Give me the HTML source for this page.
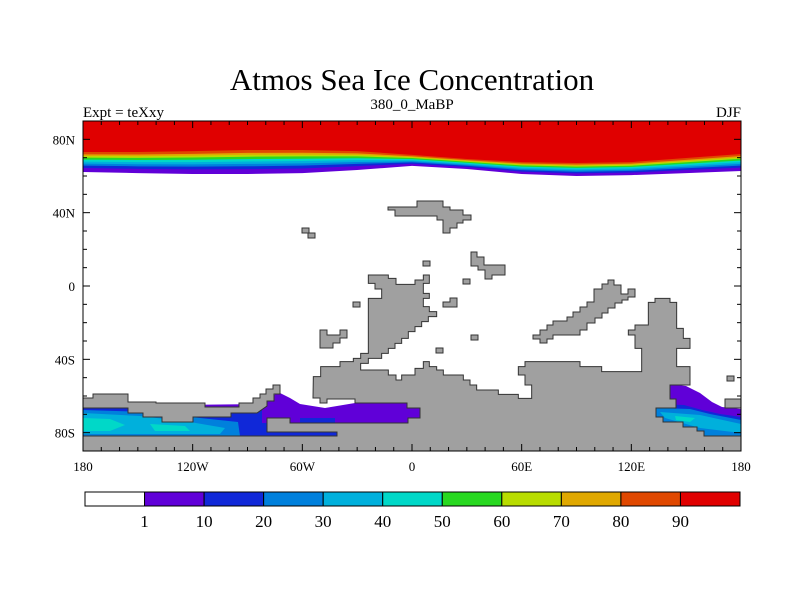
<!DOCTYPE html>
<html><head><meta charset="utf-8">
<style>
html,body{margin:0;padding:0;background:#fff;}
svg{display:block;font-family:"Liberation Serif",serif;}
</style></head>
<body>
<svg id="chart" width="800" height="600" viewBox="0 0 800 600" xmlns="http://www.w3.org/2000/svg">
<text x="412" y="90" font-size="31" text-anchor="middle">Atmos Sea Ice Concentration</text>
<text x="83" y="117" font-size="15">Expt = teXxy</text>
<text x="412" y="109" font-size="15" text-anchor="middle">380_0_MaBP</text>
<text x="741" y="117" font-size="15" text-anchor="end">DJF</text>
<g id="plot"></g>
<g id="axes"></g>
<g id="cbar"></g>
</svg>
<script>
const levels=[1,10,20,30,40,50,60,70,80,90];
const colors=["#ffffff","#6000d8","#1028d8","#0080dc","#00b0dc","#00d8c8","#28d820","#b8dc00","#e0a800","#e04800","#e00000"];
const arcticLons=[-180,-150,-120,-90,-60,-30,0,30,60,90,120,150,180];
const redEdgeLat=[73.1,73.1,73.6,74.2,74.2,73.6,71.5,69.3,67.6,67.1,67.6,69.8,72];
const iceEdgeLat=[62.2,61.6,61.1,61.1,61.6,63.3,65.5,63.8,61.1,60,60.5,61.6,62.7];
const bandFrac=[0,0.2,0.32,0.42,0.52,0.62,0.72,0.8,0.88,1];
const xTicks=[-180,-120,-60,0,60,120,180];
const xTickLabels=["180","120W","60W","0","60E","120E","180"];
const yTicks=[80,40,0,-40,-80];
const yTickLabels=["80N","40N","0","40S","80S"];

const X0=83,X1=741,Y0=121,Y1=451;
const xs=lon=>X0+(lon+180)/360*(X1-X0);
const ys=lat=>Y0+(90-lat)/180*(Y1-Y0);
const NS="http://www.w3.org/2000/svg";
function mk(tag,attrs,parent){const e=document.createElementNS(NS,tag);for(const k in attrs)e.setAttribute(k,attrs[k]);parent.appendChild(e);return e;}
const plot=document.getElementById('plot');
const axes=document.getElementById('axes');
const cbar=document.getElementById('cbar');

// Arctic bands: outermost (1) first, then higher levels on top
for(let b=0;b<=9;b++){
  const f=bandFrac[b];
  let pts=[];
  arcticLons.forEach((lon,i)=>{const lat=iceEdgeLat[i]+(redEdgeLat[i]-iceEdgeLat[i])*f;pts.push(xs(lon)+","+ys(lat));});
  pts.push(X1+","+Y0);pts.push(X0+","+Y0);
  const p=mk('polygon',{points:pts.join(" "),fill:colors[b+1]},plot);
  
  
}

function poly(pts,fill,name,stroke){
  const p=mk('polygon',{points:pts.map(q=>q.join(",")).join(" "),fill:fill},plot);
  if(stroke){p.setAttribute('stroke','#333');p.setAttribute('stroke-width','1');}
  
  
  return p;
}
// Southern ice - left
poly([[83,406],[265,404],[337,410],[337,436],[83,436]],colors[1],'south-ice-left-1');
poly([[83,408],[262,408],[280,420],[337,428],[337,436],[83,436]],colors[2],'south-ice-left-10');
poly([[83,410],[150,412],[200,418],[238,422],[240,436],[83,436]],colors[3],'south-ice-left-20');
poly([[83,413],[140,416],[190,422],[225,428],[220,434],[83,434]],colors[4],'south-ice-left-30');
poly([[83,418],[110,419],[125,425],[110,431],[83,431]],colors[5],'south-ice-left-40');
poly([[150,424],[185,426],[190,431],[155,431]],colors[5],'south-ice-left-40b');
// purple west of antarctic peninsula
poly([[278,392],[290,398],[300,404],[325,408],[355,403],[420,403],[420,423],[262,423],[262,405]],colors[1],'south-ice-mid-1');
poly([[300,418],[335,418],[335,423],[300,423]],colors[2],'south-ice-mid-10');
// right ice
poly([[668,384],[686,386],[700,393],[712,402],[722,407],[741,409],[741,436],[656,436],[656,400]],colors[1],'south-ice-right-1');
poly([[656,404],[684,405],[702,410],[720,414],[741,417],[741,436],[656,436]],colors[2],'south-ice-right-10');
poly([[656,408],[690,409],[710,414],[741,420],[741,436],[656,436]],colors[3],'south-ice-right-20');
poly([[660,412],[700,415],[741,424],[741,433],[700,428],[665,418]],colors[4],'south-ice-right-30');
poly([[675,416],[695,418],[690,422],[676,420]],colors[5],'south-ice-right-40');

// Land
const land='#a0a0a0';
const B3=[[40,545],[62,545],[62,515],[120,515],[120,500],[160,500],[160,490],[182,490],[182,475],[205,475],[205,310],[245,310],[245,282],[225,282],[225,265],[205,265],[205,240],[265,240],[265,250],[288,250],[288,268],[345,268],[345,255],[370,255],[370,240],[388,240],[388,265],[370,265],[370,295],[388,295],[388,310],[370,310],[370,335],[388,335],[388,350],[410,350],[410,365],[385,365],[385,380],[365,380],[365,395],[345,395],[345,410],[325,410],[325,430],[305,430],[305,445],[285,445],[285,460],[265,460],[265,475],[245,475],[245,490],[205,490],[205,505],[182,505],[182,525],[265,525],[265,540],[288,540],[288,555],[305,555],[305,540],[345,540],[345,520],[370,520],[370,500],[388,500],[388,515],[410,515],[410,525],[430,525],[430,540],[490,540],[490,555],[510,555],[510,570],[530,570],[530,585],[595,585],[595,598],[655,598],[655,610],[695,610],[695,570],[675,570],[675,540],[655,540],[655,515],[675,515],[675,500],[840,500],[840,515],[905,515],[905,530],[1025,530],[1025,460],[1005,460],[1005,420],[985,420],[985,405],[1005,405],[1005,390],[1045,390],[1045,322],[1065,322],[1065,310],[1110,310],[1110,322],[1130,322],[1130,400],[1150,400],[1150,430],[1170,430],[1170,460],[1130,460],[1130,515],[1170,515],[1170,570],[1110,570]];
const z3=q=>[300+q[0]/3,195+q[1]/3];
const Btail=[[670,399],[676,399],[676,408],[656,408],[656,417],[663,417],[663,422],[683,422],[683,427],[697,427],[697,431],[704,431],[704,436],[741,436],[741,451],[83,451],[83,436],[337,436],[337,432],[267,432],[267,418],[290,418],[290,423],[408,423],[408,418],[420,418],[420,408],[407,408],[407,403],[355,403],[355,399],[327,399],[327,403],[320,403],[320,398],[313,398]];
poly(B3.map(z3).concat(Btail),land,'southern-continent',true);
poly([[83,398],[93,398],[93,394],[128,394],[128,402],[156,402],[156,403],[205,403],[205,407],[239,407],[239,403],[253,403],[253,398],[260,398],[260,394],[266,394],[266,389],[273,389],[273,385],[280,385],[280,394],[274,394],[274,401],[267,401],[267,406],[257,413],[231,413],[231,417],[193,417],[193,422],[162,422],[162,417],[143,417],[143,413],[128,413],[128,408],[83,408]],land,'west-antarctic-land',true);
poly([[388,207],[417,207],[417,201],[443,201],[443,207],[450,207],[450,210],[463,210],[463,215],[471,215],[471,220],[463,220],[463,223],[457,223],[457,228],[450,228],[450,233],[443,233],[443,220],[437,220],[437,216],[395,216],[395,210],[388,210]],land,'northern-landmass',true);
poly([[471,252],[477,252],[477,257],[484,257],[484,265],[505,265],[505,275],[492,275],[492,279],[485,279],[485,270],[478,270],[478,266],[471,266]],land,'central-island',true);
poly([[533,335],[540,335],[540,330],[547,330],[547,325],[553,325],[553,321],[567,321],[567,317],[573,317],[573,312],[580,312],[580,307],[587,307],[587,302],[594,302],[594,289],[602,289],[602,284],[608,284],[608,280],[614,280],[614,285],[621,285],[621,294],[628,294],[628,289],[635,289],[635,297],[628,297],[628,300],[622,300],[622,303],[615,303],[615,308],[608,308],[608,313],[602,313],[602,318],[595,318],[595,323],[587,323],[587,330],[580,330],[580,335],[553,335],[553,339],[547,339],[547,343],[540,343],[540,339],[533,339]],land,'eastern-arc-land',true);
poly([[320,330],[327,330],[327,335],[340,335],[340,330],[347,330],[347,338],[340,338],[340,343],[333,343],[333,348],[320,348]],land,'west-island',true);
poly([[443,302],[450,302],[450,298],[457,298],[457,307],[443,307]],land,'small-island-a',true);
poly([[725,399],[741,399],[741,408],[725,408]],land,'east-edge-land',true);
[[353,302],[423,261],[463,279],[471,335],[436,348],[302,228],[308,233],[727,376]].forEach((s,i)=>{
  const p=mk('rect',{x:s[0],y:s[1],width:7,height:5,fill:land,stroke:'#333','stroke-width':1},plot);
  
  
});

// Frame
let fr=mk('rect',{x:X0,y:Y0,width:X1-X0,height:Y1-Y0,fill:'none',stroke:'#000','stroke-width':1},axes);


for(let lon=-180;lon<=180;lon+=10){
  const major=(lon%60===0);const L=major?7:4;const x=xs(lon);
  const t1=mk('line',{x1:x,y1:Y1,x2:x,y2:Y1-L,stroke:'#000'},axes);
  
  
  const t2=mk('line',{x1:x,y1:Y0,x2:x,y2:Y0+L,stroke:'#000'},axes);
  
  
}
for(let lat=-80;lat<=80;lat+=10){
  const major=(lat%40===0);const L=major?7:4;const y=ys(lat);
  const t1=mk('line',{x1:X0,y1:y,x2:X0+L,y2:y,stroke:'#000'},axes);
  
  
  const t2=mk('line',{x1:X1,y1:y,x2:X1-L,y2:y,stroke:'#000'},axes);
  
  
}
xTicks.forEach((lon,i)=>{
  const t=mk('text',{x:xs(lon),y:Y1+20,'font-size':13,'text-anchor':'middle'},axes);
  t.textContent=xTickLabels[i];
  
  
});
yTicks.forEach((lat,i)=>{
  const t=mk('text',{x:X0-8,y:ys(lat)+5,'font-size':13,'text-anchor':'end'},axes);
  t.textContent=yTickLabels[i];
  
  
});

// Colorbar
const CB0=85,CB1=740,CBY=492,CBH=14;const bw=(CB1-CB0)/colors.length;
colors.forEach((c,i)=>{
  const r=mk('rect',{x:CB0+i*bw,y:CBY,width:bw,height:CBH,fill:c,stroke:'#000','stroke-width':1},cbar);
  
  
});
levels.forEach((v,i)=>{
  const t=mk('text',{x:CB0+(i+1)*bw,y:CBY+35,'font-size':17,'text-anchor':'middle'},cbar);
  t.textContent=v;
  
  
});
</script>
</body></html>
